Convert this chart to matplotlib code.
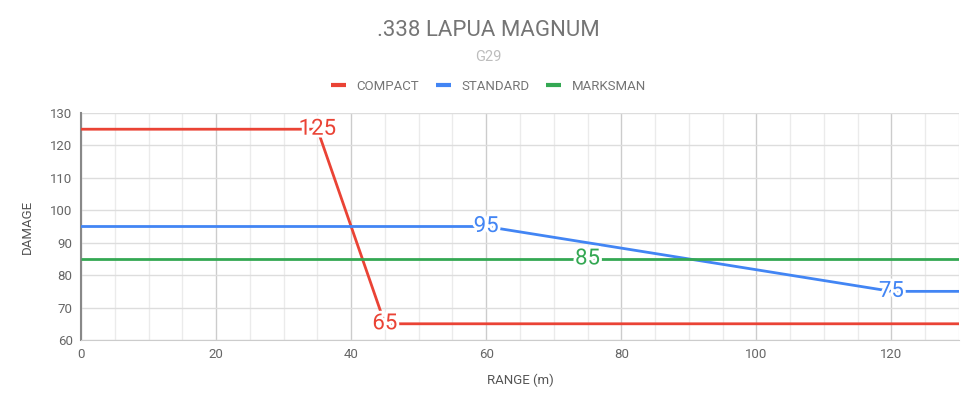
import matplotlib
matplotlib.use("Agg")
import matplotlib.pyplot as plt
import matplotlib.patheffects as pe
from matplotlib.ticker import MultipleLocator

plt.rcParams['font.family'] = ['Roboto', 'DejaVu Sans']

series_names = ["COMPACT", "STANDARD", "MARKSMAN"]
compact_x = [0, 35, 45, 130]
compact_y = [125, 125, 65, 65]
standard_x = [0, 60, 120, 130]
standard_y = [95, 95, 75, 75]
marksman_x = [0, 75, 130]
marksman_y = [85, 85, 85]
labels = [  # (series index, x, y)
    (0, 35, 125), (0, 45, 65), (1, 60, 95), (1, 120, 75), (2, 75, 85)
]
colors = ["#ea4335", "#4285f4", "#34a853"]

fig = plt.figure(figsize=(9.77, 4.11), dpi=100)
ax = fig.add_axes([81/977, (411-340)/411, (959-81)/977, (340-113)/411])

xs = [compact_x, standard_x, marksman_x]
ys = [compact_y, standard_y, marksman_y]
handles = []
for i in range(3):
    h, = ax.plot(xs[i], ys[i], color=colors[i], lw=2, label=series_names[i], zorder=3,
                 solid_capstyle='butt')
    handles.append(h)
for si, x, y in labels:
    ax.text(x, y, str(y), color=colors[si], fontsize=16, ha='center', va='center', zorder=4,
            path_effects=[pe.withStroke(linewidth=4, foreground='white')])

ax.set_xlim(0, 130)
ax.set_ylim(60, 130)
ax.xaxis.set_major_locator(MultipleLocator(20))
ax.xaxis.set_minor_locator(MultipleLocator(5))
ax.yaxis.set_major_locator(MultipleLocator(10))
ax.grid(which='major', axis='x', color='#cccccc', lw=1)
ax.grid(which='minor', axis='x', color='#ebebeb', lw=1)
ax.grid(which='major', axis='y', color='#dddddd', lw=1)
ax.set_axisbelow(True)
for s in ['top', 'right']:
    ax.spines[s].set_visible(False)
ax.spines['bottom'].set_color('#cccccc')
ax.spines['left'].set_color('#888888')
ax.spines['left'].set_linewidth(1.5)
ax.tick_params(which='both', length=0, labelsize=9.5, labelcolor='#666666', pad=6)
ax.set_xlabel("RANGE (m)", fontsize=9.5, color='#555555', labelpad=9)
ax.set_ylabel("DAMAGE", fontsize=9.5, color='#555555', labelpad=12)

fig.text(0.5, 1 - 30/411, ".338 LAPUA MAGNUM", ha='center', va='center', fontsize=16, color='#757575')
fig.text(0.5, 1 - 57/411, "G29", ha='center', va='center', fontsize=10.5, color='#bdbdbd')
leg = fig.legend(handles=handles, loc='center', bbox_to_anchor=(0.5, 1 - 86/411), ncol=3,
                 frameon=False, fontsize=9.5, handlelength=1.1, handletextpad=0.8,
                 columnspacing=1.3, labelcolor='#757575')
for lh in leg.get_lines():
    lh.set_linewidth(3)

fig.savefig("out.png", dpi=100, facecolor='white')
